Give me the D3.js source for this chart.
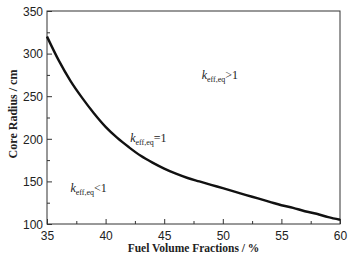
<!DOCTYPE html>
<html>
<head>
<meta charset="utf-8">
<script src="https://cdn.jsdelivr.net/npm/d3@7"></script>
<style>
  body { margin: 0; background: #fff; }
  svg { display: block; font-family: "Liberation Serif", "Times New Roman", serif; }
</style>
</head>
<body>
<div id="chart"></div>
<script>
// fuel volume fraction (%) vs critical core radius (cm)
const fraction = [35, 36, 37, 38, 39, 40, 41, 42, 43, 44, 45, 46, 47, 48, 49, 50, 51, 52, 53, 54, 55, 56, 57, 58, 59, 60];
const radius = [320, 292, 268, 248, 230, 214, 201, 190, 180, 172, 165, 159, 154, 150, 146, 142, 138, 134, 130, 126, 122, 119, 115, 112, 108, 105];

const xTicks = [35, 40, 45, 50, 55, 60];
const yTicks = [100, 150, 200, 250, 300, 350];

// region labels: [x, y, relation]
const regions = [
    [48.2, 270, ">1"],
    [42.1, 196, "=1"],
    [37.0, 138, "<1"]
];

const width = 363,
    height = 263,
    margin = {top: 11, right: 23, bottom: 39, left: 47};

const x = d3.scaleLinear().domain([35, 60]).range([margin.left, width - margin.right]);
const y = d3.scaleLinear().domain([100, 350]).range([height - margin.bottom, margin.top]);

const svg = d3.select("#chart")
    .append("svg")
    .attr("width", width)
    .attr("height", height);

// frame
svg.append("rect")
    .attr("x", x(35))
    .attr("y", y(350))
    .attr("width", x(60) - x(35))
    .attr("height", y(100) - y(350))
    .attr("fill", "none")
    .attr("stroke", "#333")
    .attr("stroke-width", 1);

// bottom axis, ticks pointing inward
const xAxis = svg.append("g")
    .attr("transform", `translate(0,${y(100)})`);
xAxis.call(d3.axisBottom(x).tickValues(d3.range(35, 60.1, 2.5)).tickSize(0).tickFormat(""));
xAxis.selectAll(".tick line").remove();
xAxis.select(".domain").remove();
xAxis.selectAll(".tick")
    .append("line")
    .attr("y2", d => xTicks.includes(d) ? -5 : -3)
    .attr("stroke", "#333");
xAxis.selectAll(".tick text").remove();
xAxis.selectAll(".tick")
    .filter(d => xTicks.includes(d))
    .append("text")
    .attr("y", 16)
    .attr("text-anchor", "middle")
    .attr("fill", "#222")
    .attr("font-size", 12)
    .text(d => d);

// left axis
const yAxis = svg.append("g")
    .attr("transform", `translate(${x(35)},0)`);
yAxis.call(d3.axisLeft(y).tickValues(d3.range(100, 351, 25)).tickSize(0).tickFormat(""));
yAxis.select(".domain").remove();
yAxis.selectAll(".tick line").remove();
yAxis.selectAll(".tick text").remove();
yAxis.selectAll(".tick")
    .append("line")
    .attr("x2", d => yTicks.includes(d) ? 5 : 3)
    .attr("stroke", "#333");
yAxis.selectAll(".tick")
    .filter(d => yTicks.includes(d))
    .append("text")
    .attr("x", -4)
    .attr("dy", "0.35em")
    .attr("text-anchor", "end")
    .attr("fill", "#222")
    .attr("font-size", 12)
    .text(d => d);

// critical curve
const line = d3.line()
    .x((d, i) => x(fraction[i]))
    .y(d => y(d))
    .curve(d3.curveMonotoneX);

svg.append("path")
    .datum(radius)
    .attr("fill", "none")
    .attr("stroke", "#111")
    .attr("stroke-width", 2.4)
    .attr("d", line);

// region annotations
const lab = svg.append("g")
    .attr("fill", "#222")
    .selectAll("text")
    .data(regions)
    .join("text")
    .attr("x", d => x(d[0]))
    .attr("y", d => y(d[1]))
    .attr("font-size", 12);
lab.append("tspan").attr("font-style", "italic").text("k");
lab.append("tspan").attr("font-size", 8).attr("dy", 3).text("eff,eq");
lab.append("tspan").attr("dy", -3).text(d => d[2]);

// axis titles
svg.append("text")
    .attr("x", (x(35) + x(60)) / 2)
    .attr("y", 252)
    .attr("text-anchor", "middle")
    .attr("font-weight", "bold")
    .attr("font-size", 11.5)
    .attr("fill", "#222")
    .text("Fuel Volume Fractions / %");

svg.append("text")
    .attr("transform", "translate(17,114) rotate(-90)")
    .attr("text-anchor", "middle")
    .attr("font-weight", "bold")
    .attr("font-size", 12)
    .attr("fill", "#222")
    .text("Core Radius / cm");
</script>
</body>
</html>
